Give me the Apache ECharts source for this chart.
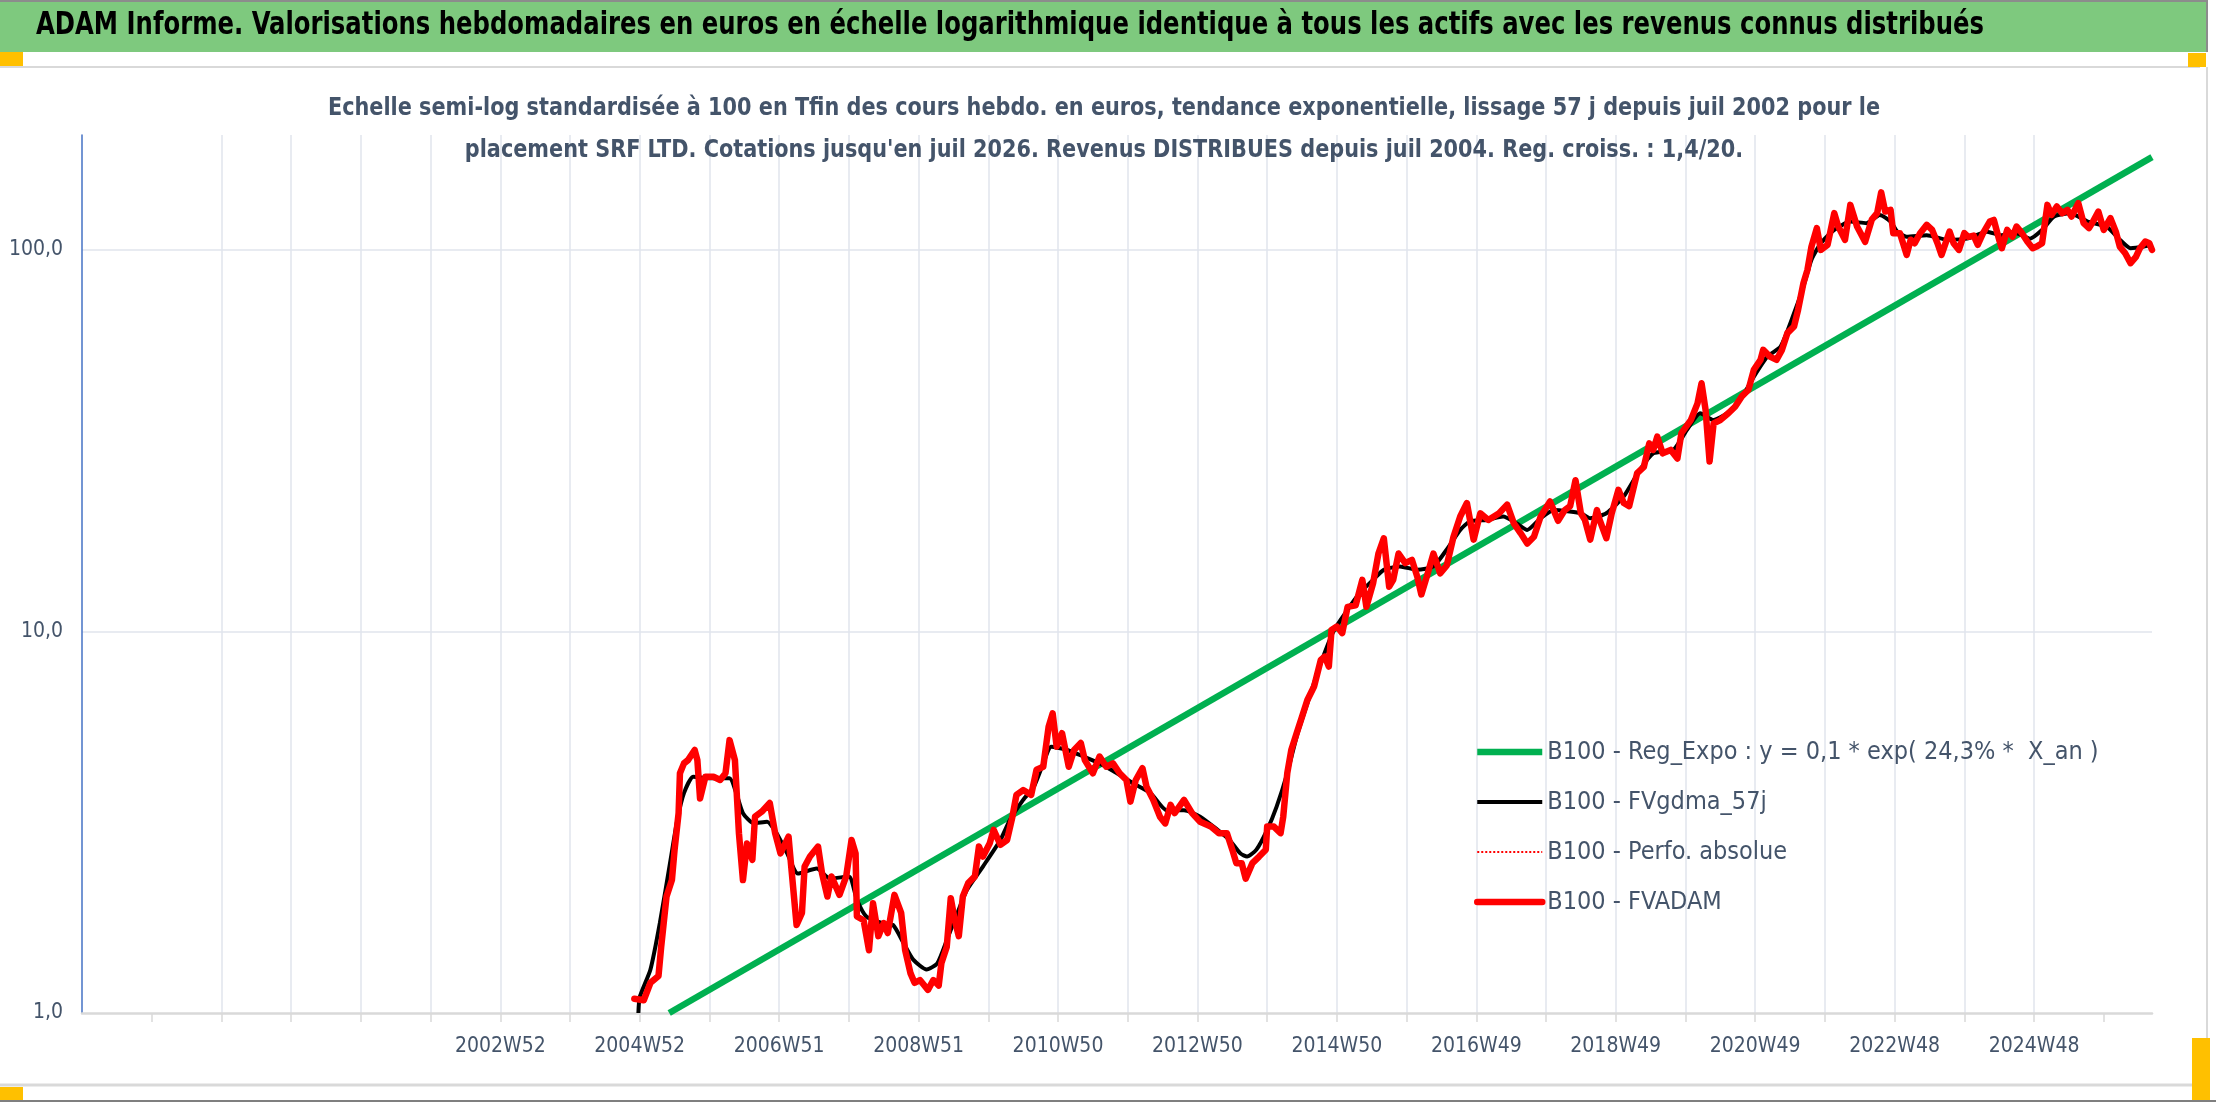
<!DOCTYPE html>
<html>
<head>
<meta charset="utf-8">
<script src="https://cdn.jsdelivr.net/npm/echarts@6/dist/echarts.min.js"></script>
<style>
  html, body { margin: 0; padding: 0; background: #fff; }
  #chart { width: 2216px; height: 1102px; }
</style>
</head>
<body>
<div id="chart"></div>
<script>
// police étroite (le graphique Excel d'origine est très condensé)
const FONT = '"DejaVu Sans Condensed", "Liberation Sans", sans-serif';

// axe des x : semaines depuis le début de l'axe (fin 1996)
const gridWeeks = [52, 104, 156, 208, 260, 312, 364, 416, 468, 520, 572, 624, 676, 728, 780,
    832, 884, 936, 988, 1040, 1092, 1144, 1196, 1248, 1300, 1352, 1404, 1456, 1508];
const tickWeeks = [312, 416, 520, 624, 728, 832, 936, 1040, 1144, 1248, 1352, 1456];
const tickLabels = ['2002W52', '2004W52', '2006W51', '2008W51', '2010W50', '2012W50',
    '2014W50', '2016W49', '2018W49', '2020W49', '2022W48', '2024W48'];

// régression exponentielle (droite en échelle log)
const regWeeks = [438, 1544];
const regValues = [1.0, 175];

// FVgdma_57j (lissage)
const gdmaWeeks = [415, 416, 424, 431, 439, 444, 449, 456, 469, 483, 488, 493, 501, 511, 518, 526, 534,
    548, 558, 572, 578, 585, 597, 605, 613, 620, 630, 638, 645, 653, 660, 672, 685, 692, 702, 710,
    717, 723, 735, 747, 759, 772, 784, 797, 809, 822, 834, 847, 856, 864, 869, 876, 884, 891, 899,
    906, 914, 924, 934, 944, 953, 963, 971, 983, 996, 1008, 1018, 1028, 1035, 1048, 1060, 1070, 1078,
    1088, 1098, 1118, 1125, 1137, 1150, 1162, 1172, 1187, 1197, 1207, 1217, 1227, 1237, 1247, 1257,
    1267, 1277, 1284, 1290, 1297, 1307, 1319, 1331, 1341, 1349, 1354, 1361, 1376, 1391, 1406, 1421,
    1431, 1443, 1453, 1462, 1471, 1483, 1496, 1510, 1520, 1528, 1538, 1543];
const gdmaValues = [1.0, 1.10, 1.30, 1.72, 2.52, 3.20, 3.77, 4.16, 4.12, 4.12, 3.77, 3.34, 3.14, 3.17, 2.96, 2.62, 2.32,
    2.39, 2.25, 2.28, 1.98, 1.79, 1.72, 1.70, 1.52, 1.38, 1.30, 1.35, 1.55, 1.83, 2.10, 2.42, 2.84, 3.20, 3.62, 3.92,
    4.51, 4.99, 4.89, 4.70, 4.51, 4.25, 4.00, 3.77, 3.40, 3.40, 3.27, 3.02, 2.84, 2.62, 2.57, 2.68, 3.02, 3.47, 4.25,
    5.30, 6.48, 8.25, 10.09, 11.4, 12.6, 13.65, 14.5, 14.8, 14.5, 14.8, 16.4, 18.45, 19.4, 19.6, 20.0, 19.2, 18.45,
    19.8, 20.8, 20.4, 19.8, 20.4, 22.6, 26.5, 29.3, 29.9, 33.7, 37.3, 35.8, 37.3, 40.5, 46.5, 52.5,
    55.8, 68.2, 80.1, 94.2, 104.1, 112.8, 118.6, 117.5, 123.5, 118.6, 111.6, 108.2, 109.3, 106.3, 107, 111.6,
    109.3, 110.6, 107, 112.8, 122.3, 124.8, 118.6, 115.1, 106.3, 101, 102, 103.1];

// Perfo. absolue : confondue avec FVADAM, seulement en légende
const perfoWeeks = [];
const perfoValues = [];

// FVADAM (cours hebdo)
const adamWeeks = [412, 419, 424, 430, 432, 436, 440, 442, 445, 446, 449, 452, 457, 459, 461, 465, 471, 476,
    480, 483, 487, 490, 493, 496, 500, 502, 507, 513, 517, 521, 527, 529, 533, 537, 539, 543, 549, 552,
    556, 559, 565, 570, 574, 577, 578, 583, 587, 590, 594, 598, 601, 606, 611, 614, 618, 621, 625, 631,
    635, 639, 641, 645, 648, 651, 654, 657, 661, 666, 669, 672, 677, 680, 685, 690, 694, 697, 702, 708,
    712, 717, 721, 724, 727, 731, 736, 740, 745, 748, 754, 759, 764, 769, 774, 779, 782, 786, 791, 794,
    799, 804, 808, 812, 815, 822, 828, 834, 842, 848, 854, 858, 861, 865, 868, 873, 878, 883, 884, 889,
    894, 896, 899, 902, 906, 910, 914, 919, 924, 927, 930, 932, 936, 940, 944, 950, 955, 958, 963, 967,
    971, 975, 978, 982, 987, 992, 996, 999, 1003, 1008, 1013, 1018, 1023, 1028, 1033, 1038, 1043, 1049,
    1057, 1063, 1068, 1073, 1078, 1083, 1088, 1095, 1101, 1106, 1110, 1114, 1118, 1121, 1125, 1130, 1132,
    1137, 1141, 1146, 1150, 1154, 1160, 1165, 1169, 1172, 1175, 1179, 1185, 1190, 1193, 1200, 1205, 1208,
    1211, 1214, 1217, 1222, 1228, 1233, 1238, 1243, 1247, 1252, 1254, 1259, 1264, 1268, 1272, 1277, 1280,
    1284, 1287, 1290, 1294, 1297, 1302, 1307, 1310, 1315, 1319, 1324, 1330, 1335, 1339, 1342, 1345, 1349,
    1351, 1356, 1361, 1364, 1367, 1371, 1376, 1380, 1384, 1387, 1393, 1396, 1400, 1404, 1407, 1411, 1414,
    1418, 1423, 1426, 1430, 1432, 1436, 1440, 1443, 1447, 1451, 1455, 1458, 1462, 1466, 1469, 1473, 1477,
    1481, 1484, 1489, 1493, 1497, 1500, 1504, 1508, 1513, 1517, 1520, 1524, 1528, 1532, 1535, 1539, 1542, 1544];
const adamValues = [1.09, 1.08, 1.20, 1.25, 1.49, 2.02, 2.23, 2.68, 3.34, 4.25, 4.51, 4.60, 4.89, 4.60, 3.65, 4.16, 4.16, 4.08,
    4.25, 5.19, 4.60, 2.96, 2.23, 2.78, 2.52, 3.27, 3.37, 3.55, 2.96, 2.62, 2.90, 2.42, 1.70, 1.83, 2.42, 2.57, 2.73, 2.32,
    2.02, 2.28, 2.04, 2.28, 2.84, 2.62, 1.79, 1.75, 1.46, 1.94, 1.59, 1.72, 1.62, 2.04, 1.83, 1.46, 1.27, 1.20, 1.22, 1.15,
    1.22, 1.18, 1.35, 1.49, 2.00, 1.75, 1.59, 2.02, 2.19, 2.28, 2.73, 2.57, 2.78, 3.02, 2.76, 2.84, 3.27, 3.73, 3.84, 3.73,
    4.34, 4.42, 5.63, 6.10, 4.99, 5.41, 4.42, 4.89, 5.10, 4.60, 4.25, 4.70, 4.42, 4.51, 4.25, 4.08, 3.58, 4.08, 4.38, 3.92,
    3.62, 3.27, 3.14, 3.51, 3.34, 3.62, 3.34, 3.17, 3.08, 2.96, 2.96, 2.68, 2.47, 2.47, 2.25, 2.47, 2.57, 2.68, 3.08, 3.08,
    2.96, 3.27, 4.25, 4.89, 5.41, 5.98, 6.61, 7.17, 8.42, 8.59, 8.09, 10.09, 10.3, 9.9, 11.6, 11.7, 13.65, 11.6, 13.37, 16.0,
    17.55, 13.1, 13.65, 16.0, 15.1, 15.4, 13.9, 12.5, 13.9, 16.0, 14.2, 14.9, 17.7, 20.0, 21.7, 17.4, 20.4, 19.6,
    20.4, 21.5, 19.2, 18.1, 17.0, 17.7, 20.0, 21.9, 19.5, 20.8, 21.3, 24.9, 20.4, 19.6, 17.4, 20.8, 19.6,
    17.55, 20.4, 23.5, 21.7, 21.3, 26.0, 27.0, 31.1, 29.9, 32.4, 29.3, 29.9, 28.4, 33.1, 35.8, 39.6, 44.7,
    38.1, 27.9, 35.1, 35.8, 37.3, 38.8, 41.3, 43.0, 48.5, 51.5, 54.7, 52.5, 51.5, 54.7, 60.5, 63.0, 69.6,
    81.8, 88.6, 102, 114, 100, 103.1, 124.8, 115.1, 106.3, 131.2, 115.1, 105, 120, 124.8, 141.5, 126, 127.3,
    110.6, 110.6, 97.0, 106.3, 104.1, 110.6, 116.3, 112.8, 104.1, 97.0, 111.6, 104.1, 100, 110.6, 108.2, 109, 103.1,
    110.6, 118.6, 119.8, 106.3, 101, 112.8, 108.2, 115.1, 110.6, 105.2, 101, 102, 104.1, 131.2, 123.5, 129.9, 124.8,
    127.3, 122.3, 132.6, 117.5, 114, 118.6, 126, 112.8, 121.1, 111.6, 102, 98.0, 92.3, 95.9, 101, 105.2, 104.1, 100];

const titleText = 'ADAM Informe. Valorisations hebdomadaires en euros en échelle logarithmique identique à tous les actifs avec les revenus connus distribués';
const subLines = [
    "Echelle semi-log standardisée à 100 en Tfin des cours hebdo. en euros, tendance exponentielle, lissage 57 j depuis juil 2002 pour le",
    "placement SRF LTD. Cotations jusqu'en juil 2026. Revenus DISTRIBUES depuis juil 2004. Reg. croiss. : 1,4/20."
];

function pairs(xs, ys) {
    return xs.map(function (x, i) { return [x, ys[i]]; });
}

// largeur du texte pour le resserrer comme dans l'original
const measureCtx = document.createElement('canvas').getContext('2d');
function textWidth(str, font) {
    measureCtx.font = font;
    return measureCtx.measureText(str).width;
}

const titleFont = 'bold 32px ' + FONT;
const titleScale = 1948 / textWidth(titleText, titleFont);
const subFont = 'bold 25px ' + FONT;
const subScale = 1552 / textWidth(subLines[0], subFont);

const chart = echarts.init(document.getElementById('chart'), null, { renderer: 'canvas' });

const option = {
    backgroundColor: '#ffffff',
    animation: false,
    graphic: [
        { type: 'rect', z: -10, shape: { x: 0, y: 0, width: 2207, height: 52 }, style: { fill: '#7EC97E' } },
        { type: 'rect', z: -9, shape: { x: 0, y: 0, width: 2208, height: 2 }, style: { fill: '#8C8C8C' } },
        { type: 'rect', z: -9, shape: { x: 2206, y: 0, width: 2, height: 52 }, style: { fill: '#8C8C8C' } },
        { type: 'line', z: -9, shape: { x1: 0, y1: 67, x2: 2200, y2: 67 }, style: { stroke: '#D9D9D9', lineWidth: 2 } },
        { type: 'line', z: -9, shape: { x1: 2207, y1: 67, x2: 2207, y2: 1040 }, style: { stroke: '#D9D9D9', lineWidth: 2 } },
        { type: 'line', z: -9, shape: { x1: 0, y1: 1085, x2: 2192, y2: 1085 }, style: { stroke: '#D9D9D9', lineWidth: 3 } },
        { type: 'rect', z: -9, shape: { x: 0, y: 1100, width: 2216, height: 2 }, style: { fill: '#7F7F7F' } },
        { type: 'rect', z: -8, shape: { x: 0, y: 52, width: 23, height: 14 }, style: { fill: '#FFC000' } },
        { type: 'rect', z: -8, shape: { x: 2188, y: 53, width: 18, height: 14 }, style: { fill: '#FFC000' } },
        { type: 'rect', z: -8, shape: { x: 0, y: 1087, width: 23, height: 13 }, style: { fill: '#FFC000' } },
        { type: 'rect', z: -8, shape: { x: 2192, y: 1038, width: 18, height: 62 }, style: { fill: '#FFC000' } },
        {
            type: 'text', x: 36, y: 26, scaleX: titleScale, z: 5,
            style: { text: titleText, font: titleFont, fill: '#000000', align: 'left', verticalAlign: 'middle' }
        },
        {
            type: 'text', x: 1104, y: 108, scaleX: subScale, z: 5,
            style: { text: subLines[0], font: subFont, fill: '#44546A', align: 'center', verticalAlign: 'middle' }
        },
        {
            type: 'text', x: 1104, y: 150, scaleX: subScale, z: 5,
            style: { text: subLines[1], font: subFont, fill: '#44546A', align: 'center', verticalAlign: 'middle' }
        }
    ],
    legend: {
        orient: 'vertical',
        left: 1469,
        top: 732,
        itemWidth: 65,
        itemHeight: 14,
        itemGap: 20,
        data: [
            { name: 'B100 - Reg_Expo : y = 0,1 * exp( 24,3% *  X_an )', lineStyle: { width: 6.5, opacity: 1 }, itemStyle: { opacity: 0 } },
            { name: 'B100 - FVgdma_57j', lineStyle: { width: 4, opacity: 1 }, itemStyle: { opacity: 0 } },
            { name: 'B100 - Perfo. absolue', lineStyle: { width: 2, type: 'dotted', opacity: 1 }, itemStyle: { opacity: 0 } },
            { name: 'B100 - FVADAM', lineStyle: { width: 6.5, opacity: 1 }, itemStyle: { opacity: 0 } }
        ],
        textStyle: { fontFamily: FONT, fontSize: 25, color: '#44546A', lineHeight: 30 }
    },
    grid: { left: 82, right: 64, top: 135, bottom: 89, containLabel: false },
    xAxis: {
        type: 'value',
        min: 0,
        max: 1544,
        interval: 52,
        axisLine: { onZero: false, lineStyle: { color: '#D9D9D9', width: 2.5 } },
        axisTick: { show: true, length: 9, customValues: gridWeeks, lineStyle: { color: '#D9D9D9', width: 1.5 } },
        splitLine: { show: true, showMinLine: false, showMaxLine: false, lineStyle: { color: '#E1E5EC', width: 1.5 } },
        axisLabel: {
            customValues: tickWeeks,
            margin: 23,
            fontFamily: FONT,
            fontSize: 21,
            color: '#44546A',
            formatter: function (v) {
                const i = tickWeeks.indexOf(Math.round(v));
                return i >= 0 ? tickLabels[i] : '';
            }
        }
    },
    yAxis: {
        type: 'log',
        logBase: 10,
        min: 1,
        max: 200,
        axisLine: { show: true, lineStyle: { color: '#4472C4', width: 1.5 } },
        axisTick: { show: false },
        splitLine: { show: true, showMinLine: false, showMaxLine: false, lineStyle: { color: '#E1E5EC', width: 1.5 } },
        axisLabel: {
            margin: 19,
            fontFamily: FONT,
            fontSize: 21,
            color: '#44546A',
            showMaxLabel: false,
            formatter: function (v) {
                const l = Math.log10(v);
                if (Math.abs(l - Math.round(l)) > 1e-6) return '';
                return Math.round(v).toFixed(1).replace('.', ',');
            }
        }
    },
    series: [
        {
            name: 'B100 - Reg_Expo : y = 0,1 * exp( 24,3% *  X_an )',
            type: 'line',
            data: pairs(regWeeks, regValues),
            symbol: 'none',
            clip: true,
            lineStyle: { color: '#00B050', width: 6.5 },
            itemStyle: { color: '#00B050' }
        },
        {
            name: 'B100 - FVgdma_57j',
            type: 'line',
            data: pairs(gdmaWeeks, gdmaValues),
            symbol: 'none',
            smooth: 0.2,
            lineStyle: { color: '#000000', width: 4 },
            itemStyle: { color: '#000000' }
        },
        {
            name: 'B100 - Perfo. absolue',
            type: 'line',
            data: pairs(perfoWeeks, perfoValues),
            symbol: 'none',
            lineStyle: { color: '#FF0000', width: 2, type: 'dotted' },
            itemStyle: { color: '#FF0000' }
        },
        {
            name: 'B100 - FVADAM',
            type: 'line',
            data: pairs(adamWeeks, adamValues),
            symbol: 'none',
            lineStyle: { color: '#FF0000', width: 6.5, join: 'round', cap: 'round' },
            itemStyle: { color: '#FF0000' }
        }
    ]
};

chart.setOption(option);
</script>
</body>
</html>
